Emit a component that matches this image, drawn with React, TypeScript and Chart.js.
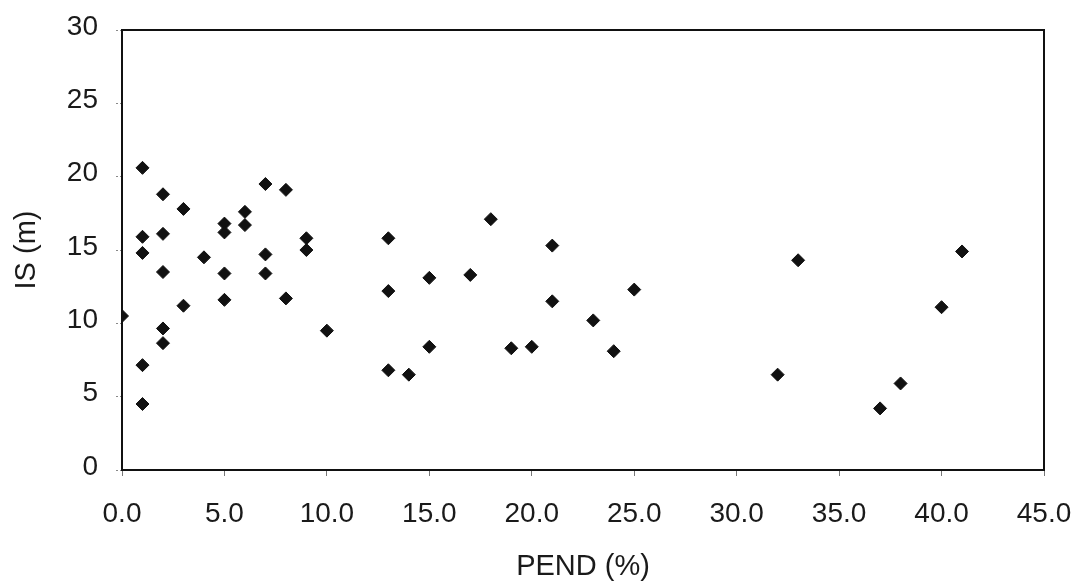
import React, { useEffect, useRef } from "react";
import { Chart, registerables } from "chart.js";

Chart.register(...registerables);

// PEND (%) values
const pendValues: number[] = [
  0,
  1, 1, 1, 1, 1,
  2, 2, 2, 2, 2,
  3, 3,
  4,
  5, 5, 5, 5,
  6, 6,
  7, 7, 7,
  8, 8,
  9, 9,
  10,
  13, 13, 13,
  14,
  15, 15,
  17,
  18,
  19,
  20,
  21, 21,
  23,
  24,
  25,
  32,
  33,
  37,
  38,
  40,
  41,
];

// IS (m) values
const isValues: number[] = [
  10.5,
  20.6, 15.9, 14.8, 7.15, 4.5,
  18.8, 16.1, 13.5, 9.65, 8.65,
  17.8, 11.2,
  14.5,
  16.8, 16.2, 13.4, 11.6,
  17.6, 16.7,
  19.5, 14.7, 13.4,
  19.1, 11.7,
  15.8, 15.0,
  9.5,
  15.8, 12.2, 6.8,
  6.5,
  13.1, 8.4,
  13.3,
  17.1,
  8.3,
  8.4,
  15.3, 11.5,
  10.2,
  8.1,
  12.3,
  6.5,
  14.3,
  4.2,
  5.9,
  11.1,
  14.9,
];

const xTitle = "PEND (%)";
const yTitle = "IS (m)";

const FONT = "'Liberation Sans', Arial, sans-serif";
const TEXT = "#1a1a1a";

const boxPlugin = {
  id: "plotBox",
  afterDatasetsDraw(chart: any) {
    const { ctx, chartArea } = chart;
    ctx.save();
    ctx.strokeStyle = "#111";
    ctx.lineWidth = 2;
    ctx.beginPath();
    ctx.moveTo(chartArea.left, chartArea.top);
    ctx.lineTo(chartArea.right, chartArea.top);
    ctx.lineTo(chartArea.right, chartArea.bottom);
    ctx.stroke();
    ctx.restore();
  },
};

export default function App() {
  const ref = useRef<HTMLCanvasElement | null>(null);

  useEffect(() => {
    if (!ref.current) return;
    const points = pendValues.map((x, i) => ({ x, y: isValues[i] }));
    const chart = new Chart(ref.current, {
      type: "scatter",
      data: {
        datasets: [
          {
            data: points,
            pointStyle: "rectRot",
            pointRadius: 6.5,
            pointHoverRadius: 6.5,
            pointBackgroundColor: "#111",
            pointBorderColor: "#111",
            pointBorderWidth: 1,
          },
        ],
      },
      options: {
        animation: false,
        responsive: true,
        maintainAspectRatio: false,
        layout: { padding: { top: 30, right: 32, left: 0, bottom: 0 } },
        plugins: {
          legend: { display: false },
          tooltip: { enabled: false },
        },
        scales: {
          x: {
            type: "linear",
            min: 0,
            max: 45,
            afterFit: (scale: any) => {
              scale.height = 114;
              scale.paddingLeft = 0;
              scale.paddingRight = 0;
            },
            border: { display: true, color: "#111", width: 2 },
            grid: {
              drawOnChartArea: false,
              drawTicks: true,
              tickLength: 6,
              color: "#777",
            },
            ticks: {
              stepSize: 5,
              padding: 21,
              color: TEXT,
              font: { family: FONT, size: 28 },
              callback: (v: any) => Number(v).toFixed(1),
            },
            title: {
              display: true,
              text: xTitle,
              color: TEXT,
              font: { family: FONT, size: 29 },
              padding: { top: 0, bottom: 0 },
            },
          },
          y: {
            type: "linear",
            min: 0,
            max: 30,
            afterFit: (scale: any) => {
              scale.width = 122;
              scale.paddingTop = 0;
              scale.paddingBottom = 0;
            },
            border: { display: true, color: "#111", width: 2 },
            grid: {
              drawOnChartArea: false,
              drawTicks: true,
              tickLength: 6,
              color: "#888",
              tickBorderDash: [2, 2],
            },
            ticks: {
              stepSize: 5,
              padding: 18,
              labelOffset: -3,
              color: TEXT,
              font: { family: FONT, size: 28 },
            },
            title: {
              display: true,
              text: yTitle,
              color: TEXT,
              font: { family: FONT, size: 29 },
              padding: { top: 10, bottom: 0 },
            },
          },
        },
      },
      plugins: [boxPlugin],
    });
    return () => chart.destroy();
  }, []);

  return (
    <div
      style={{
        position: "fixed",
        left: 0,
        top: 0,
        width: 1076,
        height: 584,
        background: "#fff",
      }}
    >
      <canvas ref={ref} />
    </div>
  );
}
